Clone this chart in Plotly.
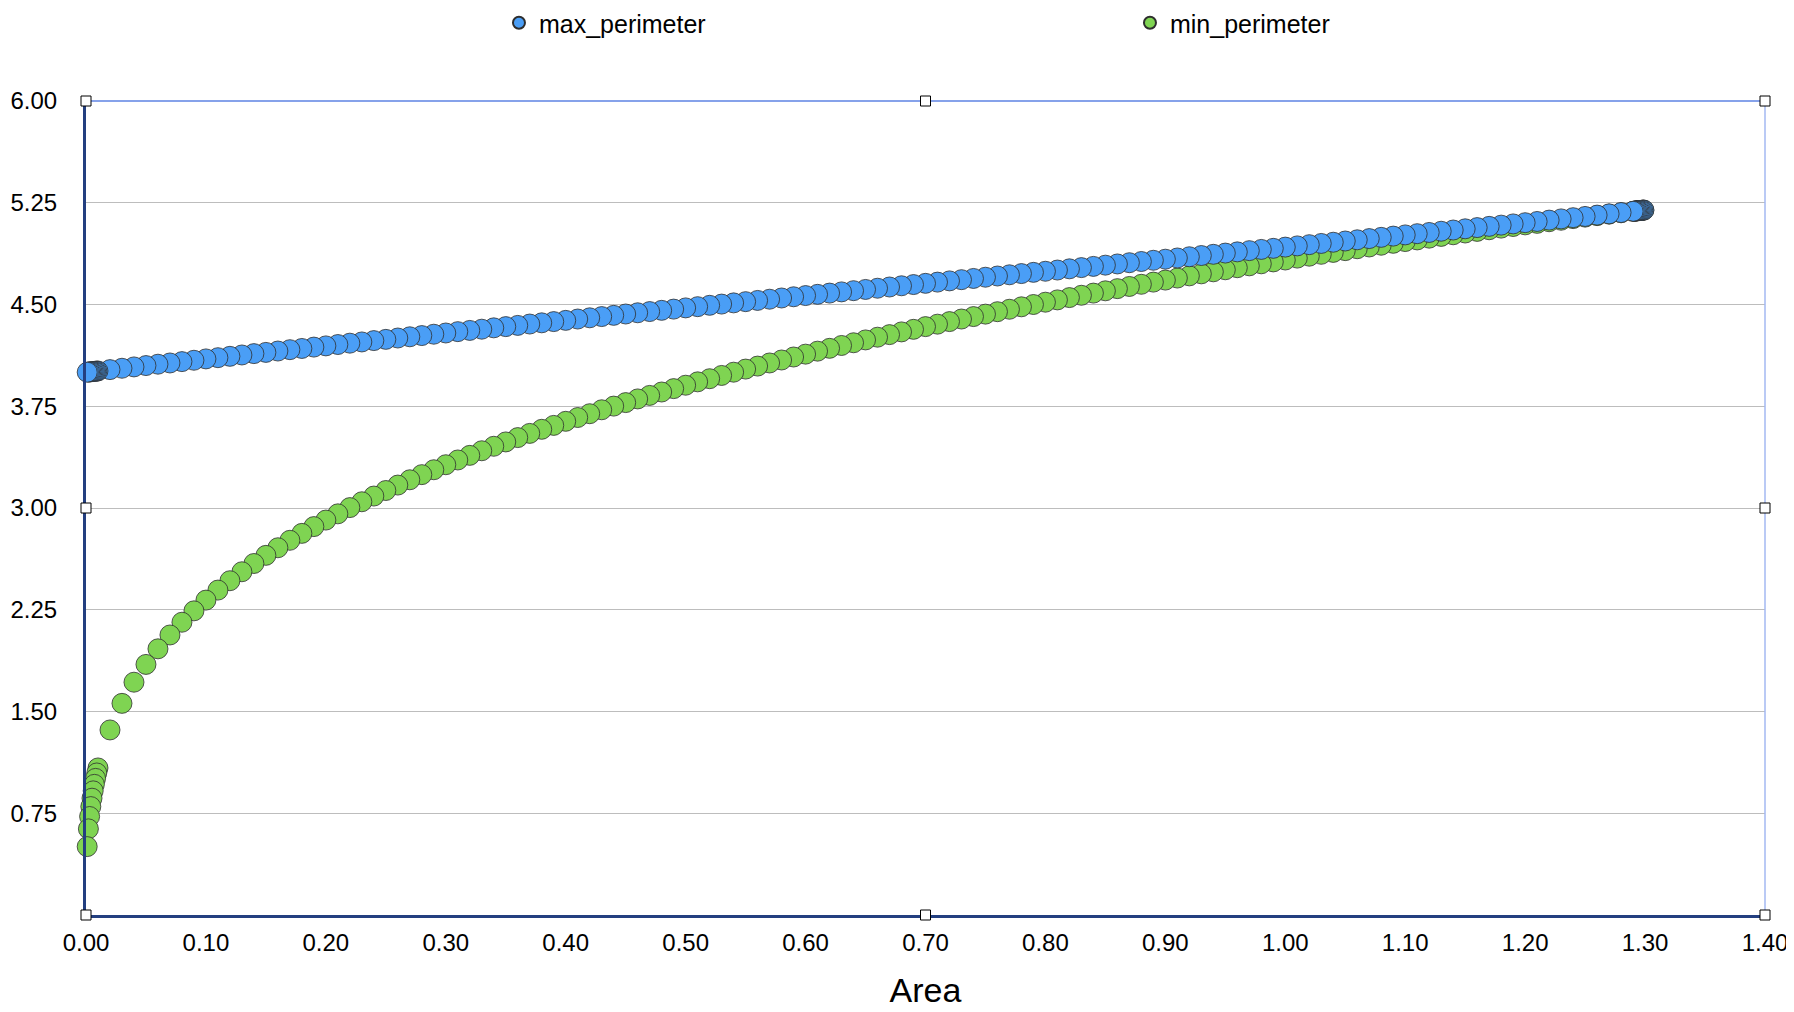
import plotly.graph_objects as go

# triangle area vs. perimeter
area = [
    0.001, 0.002, 0.003, 0.004, 0.005, 0.006, 0.007, 0.008, 0.009,
    0.01, 0.02, 0.03, 0.04, 0.05, 0.06, 0.07, 0.08, 0.09, 0.10,
    0.11, 0.12, 0.13, 0.14, 0.15, 0.16, 0.17, 0.18, 0.19, 0.20,
    0.21, 0.22, 0.23, 0.24, 0.25, 0.26, 0.27, 0.28, 0.29, 0.30,
    0.31, 0.32, 0.33, 0.34, 0.35, 0.36, 0.37, 0.38, 0.39, 0.40,
    0.41, 0.42, 0.43, 0.44, 0.45, 0.46, 0.47, 0.48, 0.49, 0.50,
    0.51, 0.52, 0.53, 0.54, 0.55, 0.56, 0.57, 0.58, 0.59, 0.60,
    0.61, 0.62, 0.63, 0.64, 0.65, 0.66, 0.67, 0.68, 0.69, 0.70,
    0.71, 0.72, 0.73, 0.74, 0.75, 0.76, 0.77, 0.78, 0.79, 0.80,
    0.81, 0.82, 0.83, 0.84, 0.85, 0.86, 0.87, 0.88, 0.89, 0.90,
    0.91, 0.92, 0.93, 0.94, 0.95, 0.96, 0.97, 0.98, 0.99, 1.00,
    1.01, 1.02, 1.03, 1.04, 1.05, 1.06, 1.07, 1.08, 1.09, 1.10,
    1.11, 1.12, 1.13, 1.14, 1.15, 1.16, 1.17, 1.18, 1.19, 1.20,
    1.21, 1.22, 1.23, 1.24, 1.25, 1.26, 1.27, 1.28, 1.29,
    1.291, 1.292, 1.293, 1.294, 1.295, 1.296, 1.297, 1.298, 1.299,
]

max_perimeter = [
    4.001, 4.002, 4.003, 4.004, 4.005, 4.006, 4.007, 4.008, 4.009,
    4.010, 4.020, 4.030, 4.040, 4.050, 4.060, 4.069, 4.079, 4.089, 4.099,
    4.108, 4.118, 4.128, 4.138, 4.147, 4.157, 4.167, 4.176, 4.186, 4.195,
    4.205, 4.215, 4.224, 4.234, 4.243, 4.253, 4.262, 4.271, 4.281, 4.290,
    4.300, 4.309, 4.318, 4.328, 4.337, 4.346, 4.356, 4.365, 4.374, 4.383,
    4.393, 4.402, 4.411, 4.420, 4.430, 4.439, 4.448, 4.457, 4.466, 4.475,
    4.484, 4.494, 4.503, 4.512, 4.521, 4.530, 4.539, 4.548, 4.557, 4.566,
    4.575, 4.584, 4.593, 4.602, 4.611, 4.620, 4.629, 4.638, 4.647, 4.656,
    4.665, 4.674, 4.683, 4.692, 4.701, 4.710, 4.719, 4.728, 4.737, 4.745,
    4.754, 4.763, 4.772, 4.781, 4.790, 4.799, 4.808, 4.817, 4.826, 4.834,
    4.843, 4.852, 4.861, 4.870, 4.879, 4.888, 4.897, 4.906, 4.914, 4.923,
    4.932, 4.941, 4.950, 4.959, 4.968, 4.977, 4.986, 4.995, 5.004, 5.013,
    5.022, 5.031, 5.040, 5.049, 5.058, 5.067, 5.076, 5.085, 5.094, 5.103,
    5.112, 5.122, 5.131, 5.140, 5.149, 5.159, 5.168, 5.178, 5.187,
    5.188, 5.189, 5.190, 5.191, 5.192, 5.193, 5.194, 5.195, 5.196,
]

min_perimeter = [
    0.504, 0.635, 0.726, 0.799, 0.861, 0.915, 0.963, 1.007, 1.047,
    1.084, 1.364, 1.560, 1.716, 1.847, 1.962, 2.064, 2.158, 2.242, 2.321,
    2.395, 2.464, 2.530, 2.591, 2.651, 2.707, 2.762, 2.813, 2.863, 2.911,
    2.957, 3.003, 3.046, 3.088, 3.129, 3.169, 3.208, 3.246, 3.282, 3.319,
    3.354, 3.388, 3.422, 3.455, 3.487, 3.519, 3.550, 3.580, 3.609, 3.639,
    3.667, 3.695, 3.724, 3.751, 3.777, 3.804, 3.830, 3.855, 3.880, 3.905,
    3.930, 3.953, 3.977, 4.001, 4.024, 4.046, 4.069, 4.091, 4.113, 4.134,
    4.156, 4.177, 4.198, 4.218, 4.239, 4.259, 4.278, 4.298, 4.317, 4.337,
    4.355, 4.374, 4.393, 4.411, 4.429, 4.447, 4.465, 4.483, 4.500, 4.517,
    4.534, 4.551, 4.568, 4.584, 4.601, 4.617, 4.633, 4.649, 4.665, 4.680,
    4.695, 4.711, 4.726, 4.741, 4.756, 4.771, 4.785, 4.800, 4.814, 4.828,
    4.842, 4.856, 4.870, 4.884, 4.897, 4.911, 4.924, 4.937, 4.951, 4.964,
    4.976, 4.989, 5.002, 5.014, 5.027, 5.039, 5.051, 5.063, 5.075, 5.087,
    5.098, 5.110, 5.121, 5.133, 5.144, 5.155, 5.166, 5.176, 5.187,
    5.188, 5.189, 5.190, 5.191, 5.192, 5.193, 5.194, 5.195, 5.196,
]

y_ticks = [0.75, 1.50, 2.25, 3.00, 3.75, 4.50, 5.25, 6.00]
y_labels = ['0.75', '1.50', '2.25', '3.00', '3.75', '4.50', '5.25', '6.00']

FONT = 'Liberation Sans, Arial, Helvetica, sans-serif'
NAVY = '#233f80'

fig = go.Figure()

# points go in from large to small area, so the small ones end up on top
# green trace first so blue sits over it where the two meet
fig.add_trace(go.Scatter(
    x=area[::-1], y=min_perimeter[::-1], mode='markers', name='min_perimeter',
    legendrank=2, cliponaxis=False,
    marker=dict(size=20, color='#7fd452', line=dict(color='#2e2e2e', width=0.8))
))
fig.add_trace(go.Scatter(
    x=area[::-1], y=max_perimeter[::-1], mode='markers', name='max_perimeter',
    legendrank=1, cliponaxis=False,
    marker=dict(size=20, color='#4a9ef6', line=dict(color='#2e2e2e', width=0.8))
))

# selection frame: light top/right edges and the little square handles
shapes = [
    dict(type='line', xref='paper', yref='paper', x0=0, x1=1, y0=1, y1=1,
         line=dict(color='#86a2ea', width=2)),
    dict(type='line', xref='paper', yref='paper', x0=1, x1=1, y0=0, y1=1,
         line=dict(color='#a3b8f2', width=1.5)),
]
for hx, hy in [(0, 0), (0.5, 0), (1, 0), (0, 0.5), (1, 0.5), (0, 1), (0.5, 1), (1, 1)]:
    shapes.append(dict(
        type='rect', xref='paper', yref='paper',
        xsizemode='pixel', ysizemode='pixel', xanchor=hx, yanchor=hy,
        x0=-5, x1=5, y0=-5, y1=5,
        fillcolor='white', line=dict(color='black', width=1), layer='above'
    ))

# page body adds an 8px margin, so the figure is 8px smaller to fit the window
fig.update_layout(
    width=1786, height=1004,
    margin=dict(l=78, r=29, t=93, b=97),
    plot_bgcolor='white', paper_bgcolor='white',
    font=dict(family=FONT, size=24, color='black'),
    showlegend=True,
    legend=dict(
        orientation='h', xref='container', yref='container',
        x=0.2749, xanchor='left', y=0.985, yanchor='middle',
        itemsizing='constant', entrywidth=586, entrywidthmode='pixels',
        font=dict(family=FONT, size=25, color='black'),
    ),
    xaxis=dict(
        range=[0, 1.4], dtick=0.1, tick0=0, tickformat='.2f',
        showgrid=False, zeroline=False, automargin=False,
        showline=True, linecolor=NAVY, linewidth=3,
        ticks='', ticklabelstandoff=4,
        title=dict(text='Area', font=dict(family=FONT, size=34), standoff=24),
    ),
    yaxis=dict(
        range=[0, 6], tickvals=y_ticks, ticktext=y_labels,
        showgrid=True, gridcolor='#bdbdbd', gridwidth=1, zeroline=False,
        automargin=False,
        showline=True, linecolor=NAVY, linewidth=3,
        ticks='', ticklabelstandoff=21,
    ),
    shapes=shapes,
)

fig.write_html("out.html")
